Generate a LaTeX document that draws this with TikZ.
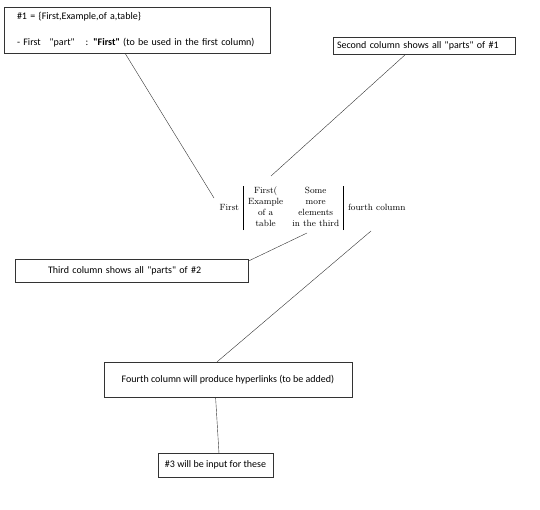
\documentclass[tikz,border=0pt]{standalone}
\usepackage{fontspec}
\newfontfamily\notefont{Carlito}
\usetikzlibrary{calc}

\begin{document}
\begin{tikzpicture}[x=1pt,y=-1pt,
  note/.style={draw=black!80,thin,font=\notefont\fontsize{10}{12}\selectfont,inner sep=2pt},
  link/.style={draw=black!80,thin}]
  \useasboundingbox (0,0) rectangle (540,509);
  % notes round the table
  \node[note,minimum width=266pt,minimum height=46pt,text width=240pt,align=left] (def) at (137,30)
    {\#1 = \{First,Example,of a,table\}\\[14pt]
     - First\hspace{9pt}"part"\hspace{11pt}: \textbf{"First"} (to be used in the first column)};
  \node[note,minimum width=182pt,minimum height=17pt,text width=174pt,align=left] (second) at (424,45.5)
    {Second column shows all "parts" of \#1};
  \node[note,minimum width=233pt,minimum height=23pt,text width=167pt,align=left] (third) at (131.5,270.5)
    {Third column shows all "parts" of \#2};
  \node[note,minimum width=248pt,minimum height=35pt] (fourth) at (228,379.5)
    {Fourth column will produce hyperlinks (to be added)};
  \node[note,minimum width=115pt,minimum height=24pt] (input) at (215.5,465)
    {\#3 will be input for these};
  % the table itself
  \node[inner sep=0pt,font=\fontsize{9}{11}\selectfont] (tab) at (312.5,208)
    {\setlength\tabcolsep{4.5pt}%
     \begin{tabular}{@{}c|cc|c@{}}
       First &
       \begin{tabular}{@{}c@{}}First(\\Example\\of a\\table\end{tabular} &
       \begin{tabular}{@{}c@{}}Some\\more\\elements\\in the third\end{tabular} &
       fourth column
     \end{tabular}};
  % free ends near the table
  \coordinate (firstTip) at (214,198);
  \coordinate (secondTip) at (271,176);
  \coordinate (thirdTip) at (307,233);
  \coordinate (fourthTip) at (371,231);
  \draw[link] ($(def.south west)!0.455!(def.south east)$) -- (firstTip);
  \draw[link] ($(second.south west)!0.4!(second.south east)$) -- (secondTip);
  \draw[link] ($(third.north east)!0.1!(third.south east)$) -- (thirdTip);
  \draw[link] ($(fourth.north west)!0.456!(fourth.north east)$) -- (fourthTip);
  \draw[link] ($(fourth.south west)!0.45!(fourth.south east)$) -- ($(input.north west)!0.53!(input.north east)$);
\end{tikzpicture}
\end{document}
